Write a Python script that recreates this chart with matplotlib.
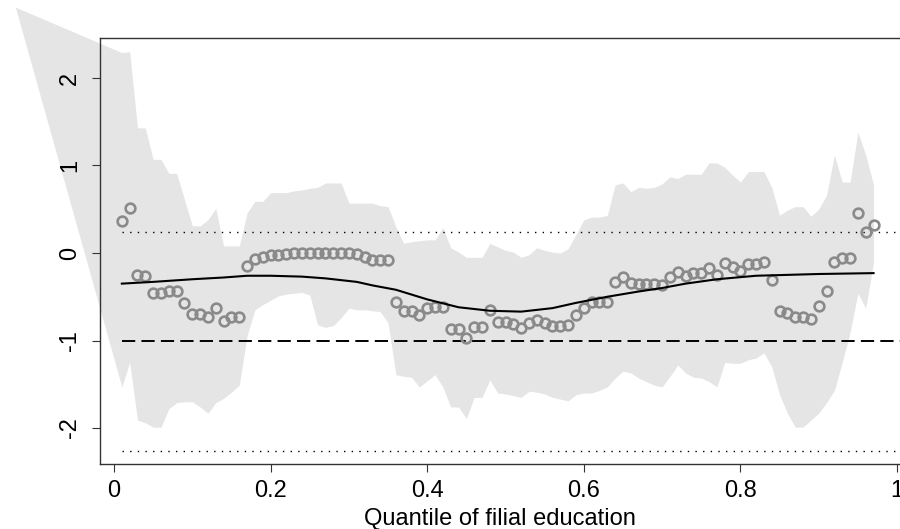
import numpy as np
import matplotlib
matplotlib.use("Agg")
from matplotlib import pyplot as plt

plt.rcParams['font.family'] = ['Liberation Sans', 'DejaVu Sans']

# quantile grid of the estimates
q = np.arange(1, 98) / 100

coef = [0.36, 0.51, -0.25, -0.26, -0.46, -0.46, -0.43, -0.43, -0.57, -0.70,
        -0.70, -0.73, -0.63, -0.78, -0.73, -0.73, -0.15, -0.07, -0.05, -0.02,
        -0.02, -0.01, 0.00, 0.00, 0.00, 0.00, 0.00, 0.00, 0.00, 0.00,
        -0.01, -0.05, -0.08, -0.08, -0.08, -0.56, -0.66, -0.66, -0.71, -0.63,
        -0.62, -0.62, -0.87, -0.87, -0.97, -0.85, -0.85, -0.65, -0.79, -0.79,
        -0.81, -0.86, -0.80, -0.77, -0.80, -0.83, -0.83, -0.82, -0.71, -0.63,
        -0.56, -0.56, -0.56, -0.33, -0.27, -0.34, -0.35, -0.35, -0.35, -0.37,
        -0.27, -0.22, -0.26, -0.23, -0.23, -0.17, -0.25, -0.11, -0.16, -0.21,
        -0.13, -0.13, -0.10, -0.31, -0.66, -0.69, -0.73, -0.73, -0.75, -0.61,
        -0.43, -0.10, -0.06, -0.06, 0.46, 0.24, 0.32]

ci_hi = [2.29, 2.30, 1.43, 1.43, 1.07, 1.07, 0.91, 0.91, 0.61, 0.31,
         0.31, 0.38, 0.51, 0.08, 0.08, 0.08, 0.46, 0.59, 0.59, 0.69,
         0.69, 0.69, 0.71, 0.72, 0.74, 0.75, 0.80, 0.80, 0.80, 0.57,
         0.57, 0.57, 0.57, 0.54, 0.53, 0.30, 0.11, 0.13, 0.14, 0.15,
         0.15, 0.29, 0.06, 0.01, -0.05, -0.05, -0.05, 0.11, 0.07, 0.03,
         0.01, -0.05, -0.02, 0.06, 0.03, 0.01, 0.00, 0.05, 0.21, 0.38,
         0.41, 0.41, 0.43, 0.78, 0.80, 0.70, 0.75, 0.74, 0.75, 0.79,
         0.87, 0.85, 0.90, 0.90, 0.90, 1.03, 1.03, 0.98, 0.89, 0.81,
         0.93, 0.93, 0.93, 0.75, 0.43, 0.49, 0.53, 0.53, 0.42, 0.50,
         0.66, 1.12, 0.81, 0.81, 1.38, 1.12, 0.78]

ci_lo = [-1.53, -1.25, -1.91, -1.94, -1.99, -1.99, -1.78, -1.71, -1.70, -1.70,
         -1.76, -1.83, -1.71, -1.66, -1.59, -1.51, -0.94, -0.65, -0.59, -0.54,
         -0.49, -0.47, -0.46, -0.45, -0.48, -0.82, -0.85, -0.83, -0.74, -0.63,
         -0.65, -0.65, -0.66, -0.67, -0.80, -1.39, -1.41, -1.42, -1.53, -1.46,
         -1.39, -1.53, -1.76, -1.76, -1.89, -1.65, -1.65, -1.45, -1.60, -1.61,
         -1.63, -1.65, -1.58, -1.59, -1.61, -1.65, -1.67, -1.69, -1.62, -1.60,
         -1.60, -1.57, -1.53, -1.43, -1.35, -1.37, -1.43, -1.47, -1.51, -1.53,
         -1.41, -1.28, -1.37, -1.42, -1.43, -1.47, -1.53, -1.25, -1.26, -1.26,
         -1.22, -1.20, -1.14, -1.30, -1.62, -1.83, -1.99, -1.99, -1.91, -1.83,
         -1.71, -1.57, -1.25, -0.91, -0.46, -0.63, -0.11]

# the band opens from a single vertex left of the axis
ci_start_x = -0.126
ci_start_y = 2.81

# smoothed quantile curve
smooth_q = [0.01, 0.05, 0.10, 0.14, 0.17, 0.20, 0.24, 0.27, 0.31, 0.33,
            0.36, 0.40, 0.44, 0.48, 0.52, 0.56, 0.59, 0.63, 0.67, 0.70,
            0.73, 0.77, 0.82, 0.86, 0.90, 0.97]
smooth_v = [-0.35, -0.33, -0.30, -0.28, -0.26, -0.26, -0.27, -0.29, -0.33, -0.37,
            -0.42, -0.53, -0.62, -0.66, -0.67, -0.63, -0.57, -0.50, -0.44, -0.40,
            -0.35, -0.30, -0.26, -0.25, -0.24, -0.23]

# OLS estimate and its confidence interval
ols_coef = -1.01
ols_lo = -2.26
ols_hi = 0.24

xticks = [0, 0.2, 0.4, 0.6, 0.8, 1]
xticklabels = ['0', '0.2', '0.4', '0.6', '0.8', '1']
yticks = [-2, -1, 0, 1, 2]
yticklabels = ['-2', '-1', '0', '1', '2']

fig = plt.figure(figsize=(9, 5.29), dpi=100)
ax = fig.add_axes([0.1111, 0.1229, 0.8889, 0.8053])

band_x = np.concatenate([[ci_start_x], q])
band_hi = np.concatenate([[ci_start_y], ci_hi])
band_lo = np.concatenate([[ci_start_y], ci_lo])
ax.fill_between(band_x, band_lo, band_hi, color='#e5e5e5', lw=0,
                clip_on=False, zorder=1)

ax.plot([0.01, 1.02], [ols_hi, ols_hi], color='black', lw=1.0,
        linestyle=(0, (1, 4.5)), zorder=2)
ax.plot([0.01, 1.02], [ols_lo, ols_lo], color='black', lw=1.0,
        linestyle=(0, (1, 4.5)), zorder=2)
ax.plot([0.01, 1.02], [ols_coef, ols_coef], color='black', lw=1.4,
        linestyle=(0, (6.8, 3.2)), zorder=2)

ax.plot(q, coef, linestyle='none', marker='o', markersize=7,
        markerfacecolor='none', markeredgecolor='#8a8a8a',
        markeredgewidth=1.9, zorder=3)
ax.plot(smooth_q, smooth_v, color='black', lw=1.5, zorder=4)

ax.set_xlim(-0.0179, 1.0038)
ax.set_ylim(-2.411, 2.457)

ax.set_xticks(xticks)
ax.set_xticklabels(xticklabels)
ax.set_yticks(yticks)
ax.set_yticklabels(yticklabels, rotation=90, va='center')
ax.tick_params(axis='both', labelsize=17, length=5.8, width=0.8,
               color='#333333')
ax.tick_params(axis='y', pad=8)
ax.tick_params(axis='x', pad=6)

for side in ['left', 'bottom', 'top']:
    ax.spines[side].set_color('#333333')
    ax.spines[side].set_linewidth(1.0)
ax.spines['right'].set_visible(False)

ax.set_xlabel('Quantile of filial education', fontsize=17, labelpad=4)

fig.savefig('out.png', dpi=100)
